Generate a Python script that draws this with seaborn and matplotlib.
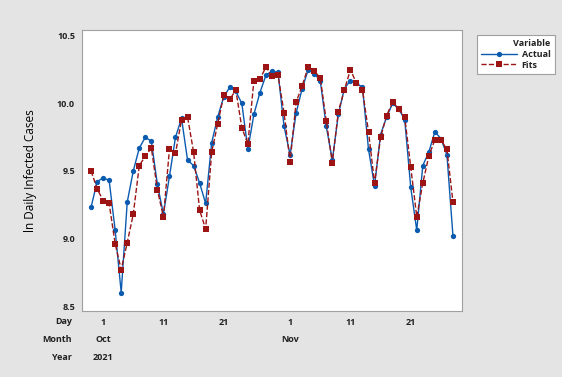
import pandas as pd
import numpy as np
import matplotlib
matplotlib.use('Agg')
import matplotlib.pyplot as plt
import matplotlib.transforms as mtransforms
import seaborn as sns

# daily values, 29 Sep 2021 .. 28 Nov 2021
start_date = '2021-09-29'
actual = [9.23, 9.42,
          9.45, 9.43, 9.06, 8.60, 9.27, 9.50, 9.67, 9.75, 9.72, 9.40,
          9.18, 9.46, 9.75, 9.89, 9.58, 9.54, 9.41, 9.26, 9.71, 9.90,
          10.05, 10.12, 10.09, 10.00, 9.66, 9.92, 10.08, 10.21, 10.24, 10.23, 9.83,
          9.62, 9.93, 10.11, 10.25, 10.22, 10.17, 9.83, 9.58, 9.92, 10.11,
          10.17, 10.15, 10.12, 9.66, 9.39, 9.77, 9.90, 10.00, 9.96, 9.88,
          9.38, 9.06, 9.54, 9.64, 9.79, 9.74, 9.62, 9.02]
fits = [9.50, 9.37,
        9.28, 9.26, 8.96, 8.77, 8.97, 9.18, 9.54, 9.61, 9.67, 9.36,
        9.16, 9.66, 9.63, 9.88, 9.90, 9.64, 9.21, 9.07, 9.64, 9.85,
        10.06, 10.03, 10.10, 9.82, 9.70, 10.17, 10.18, 10.27, 10.20, 10.21, 9.93,
        9.57, 10.01, 10.13, 10.27, 10.24, 10.19, 9.87, 9.56, 9.94, 10.10,
        10.25, 10.15, 10.10, 9.79, 9.41, 9.75, 9.91, 10.01, 9.96, 9.90,
        9.53, 9.16, 9.41, 9.61, 9.73, 9.73, 9.66, 9.27]

tick_dates = ['2021-10-01', '2021-10-11', '2021-10-21', '2021-11-01', '2021-11-11', '2021-11-21']
day_labels = ['1', '11', '21', '1', '11', '21']
month_labels = {'2021-10-01': 'Oct', '2021-11-01': 'Nov'}
year_labels = {'2021-10-01': '2021'}

dates = pd.date_range(start_date, periods=len(actual), freq='D')
df = pd.DataFrame({'Date': dates, 'Actual': actual, 'Fits': fits})

sns.set_style('white')
plt.rcParams['font.family'] = ['Open Sans', 'DejaVu Sans']

bg = '#e4e4e4'
txt = '#222222'
blue = '#0a5bb0'
red = '#9c1414'

fig = plt.figure(figsize=(5.62, 3.77), dpi=100, facecolor=bg)
ax = fig.add_axes([82 / 562, 1 - 311 / 377, 380 / 562, 281 / 377])
ax.set_facecolor('white')

sns.lineplot(data=df, x='Date', y='Actual', ax=ax, color=blue, lw=1.0,
             marker='o', markersize=3.8, markeredgewidth=0, label='Actual')
sns.lineplot(data=df, x='Date', y='Fits', ax=ax, color=red, lw=1.0, linestyle='--',
             dashes=(6, 3), marker='s', markersize=4.0, markeredgewidth=0, label='Fits')

ax.set_xlim(dates[0] - pd.Timedelta(hours=36), dates[-1] + pd.Timedelta(hours=36))
ax.set_ylim(8.463, 10.544)
ax.set_yticks([8.5, 9.0, 9.5, 10.0, 10.5])
ax.set_yticklabels(['8.5', '9.0', '9.5', '10.0', '10.5'])
ax.set_xticks(pd.to_datetime(tick_dates))
ax.set_xticklabels(day_labels)
ax.tick_params(axis='both', direction='out', length=3, width=0.8, color='#909090',
               labelsize=6.5, labelcolor=txt, pad=2)
for lab in ax.get_xticklabels() + ax.get_yticklabels():
    lab.set_fontweight('bold')
for sp in ax.spines.values():
    sp.set_color('#a0a0a0')
    sp.set_linewidth(0.8)

ax.set_xlabel('')
ax.set_ylabel('ln Daily Infected Cases', fontsize=8.5, color='black', labelpad=14,
              fontweight='medium')

# extra rows under the day ticks
trans = mtransforms.blended_transform_factory(ax.transData, fig.transFigure)
for d, m in month_labels.items():
    ax.text(pd.Timestamp(d), 1 - 340 / 377, m, transform=trans, ha='center', va='center',
            fontsize=6.5, fontweight='bold', color=txt)
for d, y in year_labels.items():
    ax.text(pd.Timestamp(d), 1 - 357 / 377, y, transform=trans, ha='center', va='center',
            fontsize=6.5, fontweight='bold', color=txt)
for name, ypx in [('Day', 322), ('Month', 340), ('Year', 357)]:
    fig.text(72 / 562, 1 - ypx / 377, name, ha='right', va='center',
             fontsize=6.5, fontweight='bold', color=txt)

ax.get_legend().remove()
handles, labels = ax.get_legend_handles_labels()
leg = fig.legend(handles, labels, title='Variable', loc='upper left',
                 bbox_to_anchor=(472 / 562, 1 - 30 / 377), frameon=True, fancybox=False,
                 edgecolor='#a0a0a0', facecolor='white', framealpha=1,
                 fontsize=6.5, title_fontsize=6.5, handlelength=4.0, handletextpad=0.5,
                 labelspacing=0.2, borderpad=0.5, alignment='right')
leg.get_frame().set_linewidth(0.8)
for t in leg.get_texts():
    t.set_fontweight('bold')
    t.set_color(txt)
leg.get_title().set_fontweight('bold')
leg.get_title().set_color(txt)

fig.savefig('out.png', dpi=100, facecolor=bg)
